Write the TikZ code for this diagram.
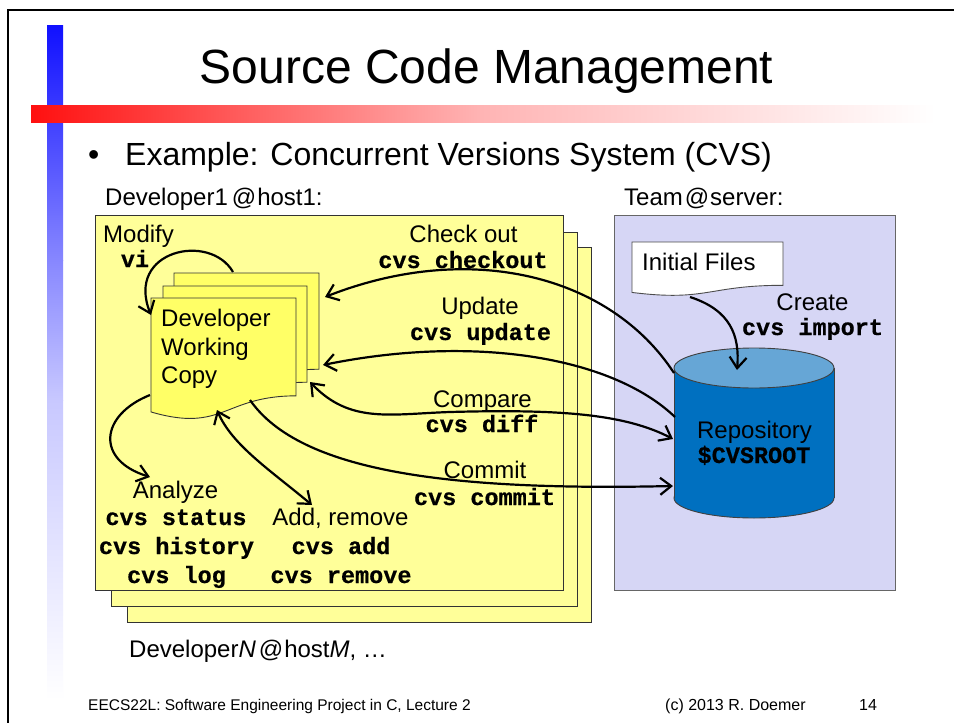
\documentclass[tikz,border=0pt]{standalone}
\usepackage{fontspec}
\setmainfont{Liberation Sans}
\newfontfamily\monofont{Liberation Mono}[BoldFeatures={FakeBold=0.6}]
\usetikzlibrary{arrows.meta}
\definecolor{boxyellow}{RGB}{255,255,153}
\definecolor{docyellow}{RGB}{255,255,102}
\definecolor{lav}{RGB}{214,214,245}
\definecolor{repoblue}{RGB}{0,112,192}
\definecolor{repotop}{RGB}{102,166,214}
\definecolor{bb0}{RGB}{16,16,255}
\definecolor{bb1}{RGB}{135,135,255}
\definecolor{bb2}{RGB}{200,200,255}
\definecolor{rb0}{RGB}{255,16,16}
\definecolor{rb1}{RGB}{255,180,180}
\newcommand\docpath[5]{%
  \draw[#5] (#1,#2) -- (#3,#2) -- (#3,{#2+0.802*#4})
    .. controls ({(#1+#3)/2},{#2+0.802*#4}) and ({(#1+#3)/2},{#2+1.1075*#4}) ..
    (#1,{#2+0.934*#4}) -- cycle;}
\tikzset{
  lbl/.style={font=\fontsize{24}{29}\selectfont, inner sep=0pt, anchor=base},
  lblw/.style={lbl, anchor=base west},
  cmd/.style={font=\monofont\bfseries\fontsize{23.5}{29}\selectfont, inner sep=0pt, anchor=base},
  ybox/.style={fill=boxyellow, draw=black!80, line width=0.9pt},
  ydoc/.style={fill=docyellow, draw=black!80, line width=0.9pt},
  arr/.style={line width=2.2pt, -{Straight Barb[length=11pt,width=17pt]}},
  arrb/.style={line width=2.2pt, {Straight Barb[length=11pt,width=17pt]}-{Straight Barb[length=11pt,width=17pt]}},
  cylline/.style={draw=black!75, line width=0.9pt}
}
\begin{document}
\begin{tikzpicture}[x=1pt,y=-1pt]
\useasboundingbox (0,0) rectangle (954,723);
\fill[white] (0,0) rectangle (954,723);
% frame
\draw[line width=2pt] (8,723) -- (8,10) -- (954,10);
% blue bar
\shade[top color=bb0, bottom color=bb1] (47,25) rectangle (63,260.5);
\shade[top color=bb1, bottom color=bb2] (47,260) rectangle (63,400.5);
\shade[top color=bb2, bottom color=white] (47,400) rectangle (63,700);
% red bar
\shade[left color=rb0, right color=rb1] (31,105) rectangle (480.5,122);
\shade[left color=rb1, right color=white] (480,105) rectangle (935,122);
% title texts
\node[font=\fontsize{48}{58}\selectfont, inner sep=0pt, anchor=base] (title) at (486.5,83) {Source Code Management};
\node[font=\fontsize{32}{38}\selectfont, inner sep=0pt, anchor=base west] (bullet) at (88,165) {•};
\node[font=\fontsize{32}{38}\selectfont, inner sep=0pt, anchor=base west] (example) at (125,165) {Example: Concurrent Versions System (CVS)};
\node[lblw] (dev1) at (105,205) {Developer1\kern4pt@\kern1pt host1:};
\node[lblw] (team) at (624,205) {Team\kern2pt@\kern1pt server:};
% developer boxes
\draw[ybox] (127,247) rectangle (591,622);
\draw[ybox] (111,232) rectangle (577,606);
\draw[ybox] (95,215) rectangle (563,590);
% team box
\draw[fill=lav, draw=black!60, line width=0.9pt] (614,215) rectangle (895,590);
% working copy documents
\docpath{174}{273}{319}{120}{ydoc}
\docpath{163}{286}{307}{120}{ydoc}
\docpath{151}{298}{296}{122}{ydoc}
\node[lblw] (wc1) at (161,326) {Developer};
\node[lblw] (wc2) at (161,355) {Working};
\node[lblw] (wc3) at (161,383) {Copy};
% initial files
\docpath{632}{242}{783}{54}{fill=white, draw=black!70, line width=0.9pt}
\node[lblw] (init) at (642,270) {Initial Files};
% repository cylinder
\draw[cylline, fill=repoblue] (754,498) ellipse[x radius=80, y radius=20];
\fill[repoblue] (674,368) rectangle (834,498);
\draw[cylline] (674,368) -- (674,498) (834,368) -- (834,498);
\draw[cylline, fill=repotop] (754,368) ellipse[x radius=80, y radius=20];
\node[lbl] (repo) at (754.5,438) {Repository};
\node[cmd] (root) at (754,463) {\$CVSROOT};
% labels
\node[lblw] (modify) at (103,242) {Modify};
\node[cmd] (vi) at (135,267) {vi};
\node[lbl] (colbl) at (463.5,242) {Check out};
\node[cmd] (cocmd) at (463,268) {cvs checkout};
\node[lbl] (uplbl) at (480,314) {Update};
\node[cmd] (upcmd) at (480.5,340) {cvs update};
\node[lbl] (cmplbl) at (482.5,407) {Compare};
\node[cmd] (cmpcmd) at (482,432) {cvs diff};
\node[lbl] (cmlbl) at (485,478) {Commit};
\node[cmd] (cmcmd) at (484.5,505) {cvs commit};
\node[lbl] (anlbl) at (175.5,498) {Analyze};
\node[cmd] (ancmd1) at (176,525) {cvs status};
\node[cmd] (ancmd2) at (176.5,554) {cvs history};
\node[cmd] (ancmd3) at (176.5,583) {cvs log};
\node[lbl] (arlbl) at (340.5,525) {Add, remove};
\node[cmd] (arcmd1) at (341,554) {cvs add};
\node[cmd] (arcmd2) at (341,583) {cvs remove};
\node[lbl] (crlbl) at (812.5,310) {Create};
\node[cmd] (crcmd) at (812.5,335) {cvs import};
\node[lblw] (devn) at (129,657) {Developer\textit{N}\kern3pt@\kern1pt host\textit{M}, …};
% footer
\node[font=\fontsize{15.5}{18}\selectfont, inner sep=0pt, anchor=base west] (foot) at (88,710) {EECS22L: Software Engineering Project in C, Lecture 2};
\node[font=\fontsize{16}{19}\selectfont, inner sep=0pt, anchor=base west] (copy) at (665,710) {(c) 2013 R. Doemer};
\node[font=\fontsize{16}{19}\selectfont, inner sep=0pt, anchor=base west] (page) at (859,710) {14};
% connector end points
\coordinate (modS) at (233,272);
\coordinate (modE) at (151,315);
\coordinate (coS) at (674,373);
\coordinate (coE) at (325,297);
\coordinate (upS) at (675,417);
\coordinate (upE) at (323,365);
\coordinate (cmpA) at (310,382);
\coordinate (cmpB) at (673,439);
\coordinate (cmS) at (250,400);
\coordinate (cmE) at (673,486);
\coordinate (arA) at (217,410);
\coordinate (arB) at (312,505);
\coordinate (anS) at (150,395);
\coordinate (anE) at (150,477);
\coordinate (crS) at (690,297);
\coordinate (crE) at (737,370);
% connectors
\draw[arr] (modS) .. controls (210,232) and (125,250) .. (modE);
\draw[arr] (coS) .. controls (610,275) and (470,240) .. (coE);
\draw[arr] (upS) .. controls (610,355) and (470,335) .. (upE);
\draw[arrb] (cmpA) .. controls (350,424) and (390,414) .. (450,412) .. controls (560,409) and (625,414) .. (cmpB);
\draw[arr] (cmS) .. controls (300,472) and (450,491) .. (cmE);
\draw[arrb] (arA) .. controls (232,445) and (270,470) .. (arB);
\draw[arr] (anS) .. controls (100,415) and (95,460) .. (anE);
\draw[arr] (crS) .. controls (730,310) and (740,335) .. (crE);
\end{tikzpicture}
\end{document}
